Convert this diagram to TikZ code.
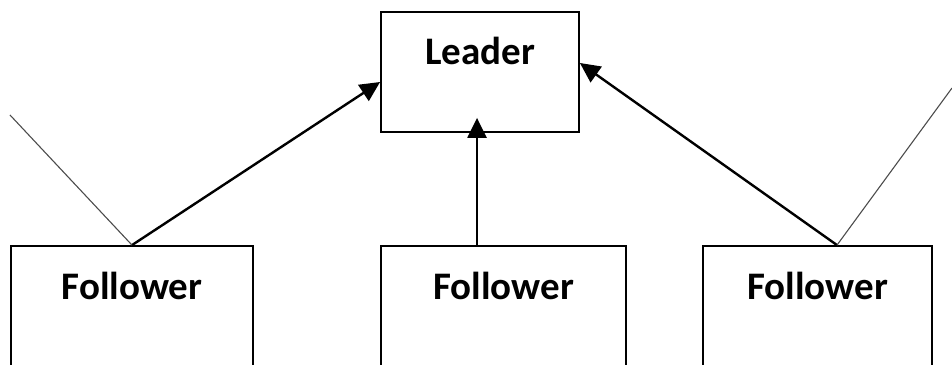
\documentclass[tikz,border=0pt]{standalone}
\usepackage{fontspec}
\setmainfont{Carlito}
\usetikzlibrary{arrows.meta}
\tikzset{
  box/.style = {draw, line width = 1.8pt, minimum height = 120pt, inner sep = 0pt},
  boxtext/.style = {font = \fontsize{39}{40}\selectfont\bfseries, inner sep = 0pt},
  arrow/.style = {line width = 2.4pt, -{Triangle[length = 20pt, width = 19pt]}},
  thin/.style = {line width = 1.1pt, black!70}
}
\begin{document}
\begin{tikzpicture}[x = 1pt, y = 1pt]
  \useasboundingbox (0, 0) rectangle (952, 364);
  % draw leader box
  \node[box, minimum width = 198pt,
    label = {[boxtext, anchor = center, yshift = -40pt]north:Leader}]
    (leader) at (480, 292) {};
  % draw follower boxes
  \node[box, minimum width = 242pt,
    label = {[boxtext, anchor = center, yshift = -41pt]north:Follower}]
    (fleft) at (132, 58) {};
  \node[box, minimum width = 245pt,
    label = {[boxtext, anchor = center, yshift = -41pt]north:Follower}]
    (fmid) at (503.5, 58) {};
  \node[box, minimum width = 229pt,
    label = {[boxtext, anchor = center, yshift = -41pt]north:Follower}]
    (fright) at (817.5, 58) {};
  % draw arrows to the leader
  \draw[arrow] (fleft.north) -- ([yshift = -10pt]leader.west);
  \draw[arrow] ([xshift = -26.5pt]fmid.north) -- ([xshift = -3pt, yshift = 15pt]leader.south);
  \draw[arrow] ([xshift = 19.5pt]fright.north) -- ([yshift = 9pt]leader.east);
  % draw thin lines leaving the picture
  \coordinate (tleft) at (10, 249);
  \coordinate (tright) at (952, 276);
  \draw[thin] (fleft.north) -- (tleft);
  \draw[thin] ([xshift = 19.5pt]fright.north) -- (tright);
\end{tikzpicture}
\end{document}
